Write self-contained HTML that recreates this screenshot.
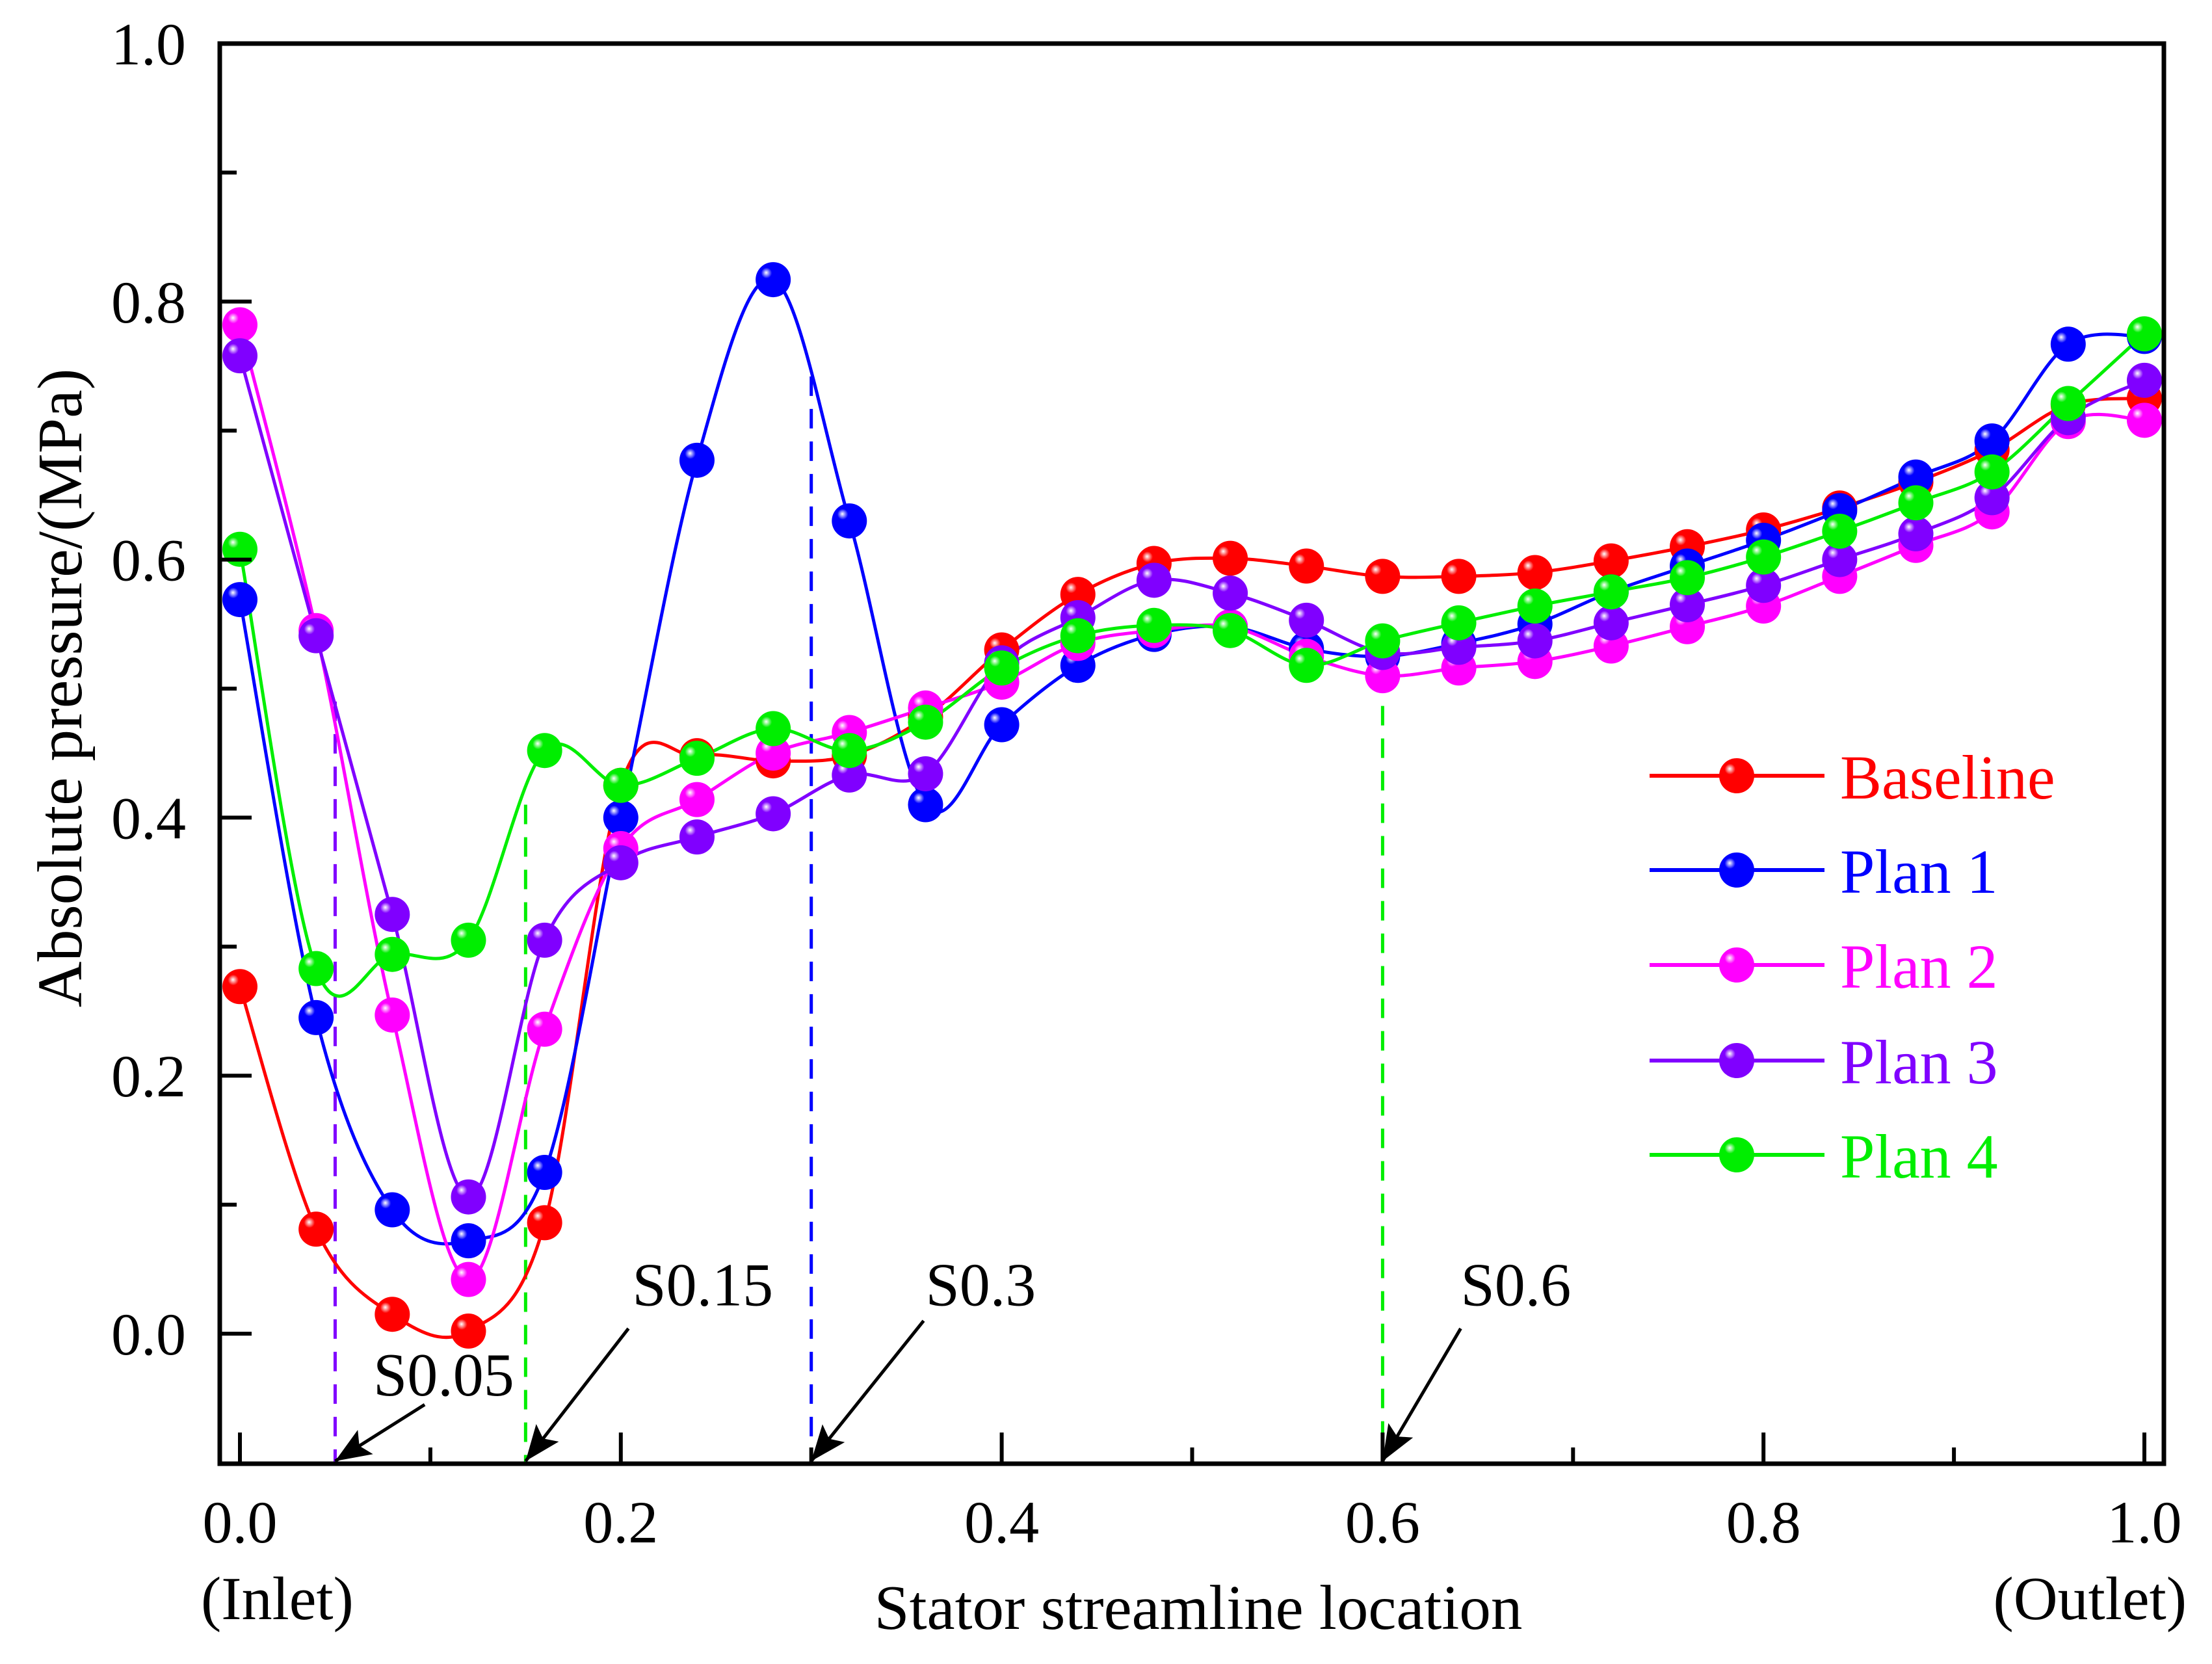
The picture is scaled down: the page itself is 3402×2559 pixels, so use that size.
<!DOCTYPE html>
<html><head><meta charset="utf-8"><style>
html,body{margin:0;padding:0;background:#fff;}
svg{display:block;font-family:"Liberation Serif","Times New Roman",serif;}
</style></head><body>
<svg id="chart" width="3402" height="2559" viewBox="0 0 3402 2559" xmlns="http://www.w3.org/2000/svg">
<defs id="defs"></defs>
<g id="plot"></g>
</svg>
<script>
const xs = [0,0.04,0.08,0.12,0.16,0.2,0.24,0.28,0.32,0.36,0.4,0.44,0.48,0.52,0.56,0.6,0.64,0.68,0.72,0.76,0.8,0.84,0.88,0.92,0.96,1.0];
const baseline = [0.269,0.081,0.015,0.002,0.086,0.425,0.448,0.444,0.448,0.478,0.53,0.573,0.597,0.601,0.595,0.587,0.587,0.59,0.599,0.61,0.623,0.64,0.66,0.685,0.72,0.725];
const plan1 = [0.569,0.245,0.096,0.072,0.125,0.40,0.677,0.817,0.63,0.41,0.472,0.518,0.542,0.548,0.531,0.525,0.535,0.55,0.575,0.595,0.615,0.638,0.664,0.692,0.767,0.773];
const plan2 = [0.782,0.545,0.247,0.042,0.236,0.376,0.414,0.45,0.466,0.485,0.505,0.535,0.545,0.548,0.525,0.51,0.516,0.521,0.533,0.548,0.564,0.587,0.611,0.637,0.707,0.708];
const plan3 = [0.758,0.541,0.325,0.106,0.305,0.365,0.385,0.403,0.433,0.434,0.52,0.555,0.584,0.574,0.553,0.528,0.532,0.537,0.551,0.565,0.58,0.6,0.62,0.648,0.71,0.739];
const plan4 = [0.608,0.283,0.294,0.305,0.452,0.425,0.446,0.469,0.452,0.474,0.516,0.541,0.549,0.545,0.518,0.537,0.551,0.564,0.575,0.586,0.602,0.622,0.644,0.668,0.721,0.775];
const seriesNames = ["Baseline","Plan 1","Plan 2","Plan 3","Plan 4"];
const seriesColors = ["#ff0000","#0000ff","#ff00ff","#8000ff","#00ee00"];
const xTicks = [0,0.2,0.4,0.6,0.8,1.0];
const xTickLabels = ["0.0","0.2","0.4","0.6","0.8","1.0"];
const yTicks = [0,0.2,0.4,0.6,0.8,1.0];
const yTickLabels = ["0.0","0.2","0.4","0.6","0.8","1.0"];
const markerX = [0.05,0.15,0.3,0.6];
const markerTop = [0.49,0.41,0.742,0.537];
const markerColors = ["#8000ff","#00ee00","#0000ff","#00ee00"];
const markerLabels = ["S0.05","S0.15","S0.3","S0.6"];
const labelX = [0.107,0.243,0.389,0.670];
const labelY = [-0.048,0.022,0.022,0.022];
const arrowFromX = [0.097,0.204,0.359,0.641];
const arrowFromY = [-0.055,0.004,0.01,0.004];

const NS="http://www.w3.org/2000/svg";
const X0=369, XS=2929, Y0=2051, YS=1984;
const L=338, R=3328, T=67, B=2251;
const sx=v=>X0+XS*v, sy=v=>Y0-YS*v;
const g=document.getElementById('plot');
const defs=document.getElementById('defs');
function mk(tag,attrs,parent){const e=document.createElementNS(NS,tag);for(const k in attrs)e.setAttribute(k,attrs[k]);(parent||g).appendChild(e);return e;}

seriesColors.forEach((c,i)=>{
  const rg=mk('radialGradient',{id:'grad'+i,cx:'0.35',cy:'0.35',r:'0.7',fx:'0.3',fy:'0.3'},defs);
  mk('stop',{offset:'0',"stop-color":'#ffffff'},rg);
  mk('stop',{offset:'0.22',"stop-color":c},rg);
  mk('stop',{offset:'1',"stop-color":c},rg);
});

markerX.forEach((mx,i)=>{
  const l=mk('line',{x1:sx(mx),x2:sx(mx),y1:sy(markerTop[i]),y2:B,stroke:markerColors[i],"stroke-width":5,"stroke-dasharray":"30 20"});
  
  
});

function spline(pts){
  let d='M'+pts[0][0]+','+pts[0][1];
  for(let i=0;i<pts.length-1;i++){
    const p0=pts[i-1]||pts[i],p1=pts[i],p2=pts[i+1],p3=pts[i+2]||p2;
    const c1=[p1[0]+(p2[0]-p0[0])/6,p1[1]+(p2[1]-p0[1])/6];
    const c2=[p2[0]-(p3[0]-p1[0])/6,p2[1]-(p3[1]-p1[1])/6];
    d+=' C'+c1[0]+','+c1[1]+' '+c2[0]+','+c2[1]+' '+p2[0]+','+p2[1];
  }
  return d;
}
const allSeries=[baseline,plan1,plan2,plan3,plan4];
allSeries.forEach((ys,si)=>{
  const pts=xs.map((x,j)=>[sx(x),sy(ys[j])]);
  const p=mk('path',{d:spline(pts),fill:'none',stroke:seriesColors[si],"stroke-width":5});
  
  
});
allSeries.forEach((ys,si)=>{
  xs.forEach((x,j)=>{
    const c=mk('circle',{cx:sx(x),cy:sy(ys[j]),r:27,fill:'url(#grad'+si+')'});
    
    
  });
});

const ah=mk('marker',{id:'arrowhead',markerWidth:'64',markerHeight:'44',refX:'10',refY:'4',orient:'auto',markerUnits:'userSpaceOnUse',viewBox:'0 0 10 8'},defs);
mk('path',{d:'M0,0 L10,4 L0,8 L2,4 Z',fill:'#000'},ah);
markerLabels.forEach((lab,i)=>{
  const a=mk('line',{x1:sx(arrowFromX[i]),y1:sy(arrowFromY[i]),x2:sx(markerX[i]),y2:B-4,stroke:'#000',"stroke-width":5,"marker-end":'url(#arrowhead)'});
  
  
  const t=mk('text',{x:sx(labelX[i]),y:sy(labelY[i]),"font-size":94,"text-anchor":'middle',fill:'#000'});
  t.textContent=lab;
  
  
});

const fr=mk('rect',{x:L,y:T,width:R-L,height:B-T,fill:'none',stroke:'#000',"stroke-width":7});


for(let k=0;k<=10;k++){
  const v=k/10, major=k%2===0;
  const t=mk('line',{x1:sx(v),x2:sx(v),y1:B,y2:B-(major?48:25),stroke:'#000',"stroke-width":6});
  
  
}
for(let k=0;k<=10;k++){
  const v=k/10, major=k%2===0;
  const t=mk('line',{x1:L,x2:L+(major?49:26),y1:sy(v),y2:sy(v),stroke:'#000',"stroke-width":6});
  
  
}
xTicks.forEach((v,i)=>{
  const t=mk('text',{x:sx(v),y:2372,"font-size":92,"text-anchor":'middle',fill:'#000'});
  t.textContent=xTickLabels[i];
  
  
});
yTicks.forEach((v,i)=>{
  const t=mk('text',{x:286,y:sy(v)+32,"font-size":92,"text-anchor":'end',fill:'#000'});
  t.textContent=yTickLabels[i];
  
  
});
let t=mk('text',{x:309,y:2490,"font-size":94,fill:'#000'});t.textContent='(Inlet)';


t=mk('text',{x:3363,y:2490,"font-size":94,"text-anchor":'end',fill:'#000'});t.textContent='(Outlet)';


t=mk('text',{x:1843,y:2505,"font-size":97,"text-anchor":'middle',fill:'#000'});t.textContent='Stator streamline location';


t=mk('text',{x:0,y:0,"font-size":98,"text-anchor":'middle',fill:'#000',transform:'translate(125,1058) rotate(-90)'});t.textContent='Absolute pressure/(MPa)';



const legY=[1193,1338,1484,1631,1776];
seriesNames.forEach((n,i)=>{
  const lg=mk('g',{});
  
  
  mk('line',{x1:2537,x2:2806,y1:legY[i],y2:legY[i],stroke:seriesColors[i],"stroke-width":6},lg);
  mk('circle',{cx:2671,cy:legY[i],r:27,fill:'url(#grad'+i+')'},lg);
  const tt=mk('text',{x:2830,y:legY[i]+35,"font-size":96,fill:seriesColors[i]},lg);
  tt.textContent=n;
});
</script>
</body></html>
